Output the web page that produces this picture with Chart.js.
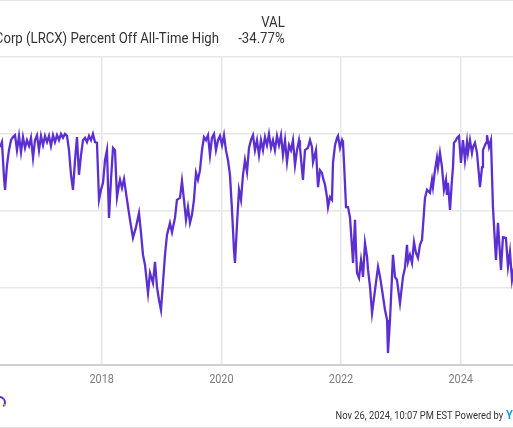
<!DOCTYPE html>
<html><head><meta charset="utf-8">
<script src="https://cdn.jsdelivr.net/npm/chart.js@4/dist/chart.umd.min.js"></script>
<style>
html,body{margin:0;padding:0;background:#fff;}
body{width:513px;height:428px;position:relative;overflow:hidden;font-family:Roboto,"Noto Sans",sans-serif;}
#c{position:absolute;left:0;top:0;}
.t{position:absolute;white-space:nowrap;color:#333;line-height:1;transform:scaleX(0.85);transform-origin:right center;}
.hl{position:absolute;left:0;width:513px;height:1px;background:#e3e3e3;}
</style></head><body>
<div class="hl" style="top:0"></div>
<div class="hl" style="top:427px"></div>
<canvas id="c" width="513" height="428"></canvas>
<div class="t" style="right:294px;top:31px;font-size:15.5px;">Lam Research Corp (LRCX) Percent Off All-Time High</div>
<div class="t" style="right:228px;top:15px;font-size:15.5px;">VAL</div>
<div class="t" style="right:228px;top:31px;font-size:15.5px;">-34.77%</div>
<div class="t" style="right:10px;top:410px;font-size:11px;">Nov 26, 2024, 10:07 PM EST Powered by</div>
<div class="t" style="left:506px;top:408px;font-size:13px;font-weight:bold;color:#1e9be0;transform-origin:left center;">YCHARTS</div>
<div style="position:absolute;left:-7px;top:396px;width:9px;height:9px;border:2px solid #5b2fd1;border-radius:50%;border-bottom-color:transparent;"></div>
<div style="position:absolute;left:4px;top:404px;width:2px;height:2px;background:#f2c200;border-radius:50%;"></div>
<script>
// Decimal-year positions of the weekly-ish samples
const sampleYears = [
2016.300,2016.333,2016.367,2016.384,2016.417,2016.450,2016.484,2016.517,2016.551,2016.584,2016.618,2016.651,2016.684,2016.718,2016.751,2016.785,2016.818,2016.852,2016.885,2016.918,2016.952,2016.985,2017.019,2017.052,2017.086,2017.119,2017.152,2017.186,2017.219,2017.253,2017.286,2017.320,2017.353,2017.386,2017.420,2017.453,2017.487,2017.520,2017.554,2017.587,2017.620,2017.654,2017.687,2017.721,2017.754,2017.788,2017.821,2017.854,2017.888,2017.921,2017.955,
2017.988,2018.022,2018.055,2018.088,2018.122,2018.155,2018.189,2018.222,2018.256,2018.289,2018.306,2018.339,2018.373,2018.423,2018.473,2018.523,2018.573,2018.623,2018.657,2018.690,2018.724,2018.774,2018.807,2018.857,2018.891,2018.924,2018.958,2018.991,2019.024,2019.058,2019.091,2019.141,2019.175,2019.225,2019.258,2019.309,2019.342,2019.375,2019.409,2019.442,2019.476,2019.509,2019.542,2019.576,2019.609,2019.643,
2019.676,2019.710,2019.743,2019.777,2019.810,2019.843,2019.877,2019.910,2019.944,2019.977,2020.011,2020.044,2020.077,2020.111,2020.144,2020.178,2020.211,2020.228,2020.261,2020.295,2020.328,2020.362,2020.395,2020.429,2020.462,2020.495,2020.529,2020.562,2020.596,2020.629,2020.662,2020.696,2020.729,2020.763,2020.796,2020.830,2020.863,2020.896,2020.930,2020.963,2020.997,2021.030,2021.064,2021.097,2021.131,2021.164,2021.197,2021.231,2021.264,2021.298,
2021.314,2021.364,2021.398,2021.448,2021.482,2021.515,2021.532,2021.582,2021.616,2021.649,2021.682,2021.699,2021.733,2021.766,2021.783,2021.816,2021.849,2021.866,2021.900,2021.933,2021.950,2021.983,2022.017,2022.033,2022.050,2022.084,2022.117,2022.150,2022.184,2022.201,2022.234,2022.251,2022.268,2022.301,2022.335,2022.351,2022.368,2022.401,2022.435,2022.452,2022.485,2022.519,2022.569,2022.619,2022.653,2022.686,2022.736,2022.770,2022.785,2022.819,2022.869,2022.902,2022.935,2022.986,2023.036,2023.069,2023.103,2023.120,2023.153,2023.187,2023.220,2023.253,2023.287,2023.320,2023.354,2023.404,2023.437,2023.487,2023.521,2023.537,2023.571,2023.604,2023.621,2023.654,2023.688,2023.721,2023.755,2023.771,2023.788,2023.822,2023.855,2023.872,2023.888,2023.922,2023.939,2023.972,2024.005,2024.039,2024.072,2024.106,2024.122,2024.156,2024.189,2024.206,2024.239,2024.273,2024.306,2024.323,2024.357,2024.373,2024.407,2024.424,2024.440,2024.474,2024.507,2024.540,2024.590,2024.624,2024.674,2024.707,2024.757,2024.791,2024.824,2024.858,2024.891
];
// Percent off all-time high (%)
const pctOffHigh = [
-3.4,-2.1,-11.4,-14.5,-8.1,-4.2,-1.6,-0.8,-0.3,-4.2,-0.5,-4.7,-0.8,-3.6,-1.6,-3.1,-1.0,-6.2,-1.6,-0.3,-4.2,-0.5,-2.9,-0.5,-2.1,-0.5,-3.1,-0.3,-2.1,-0.3,-1.6,0,-1.0,0,-0.5,-4.2,-10.6,-14.5,-6.8,-0.8,-10.6,-5.5,-1.6,-1.0,-2.1,-0.5,-1.6,0,-2.1,-2.3,-17.1,
-14.5,-12.7,-6.8,-4.2,-21.8,-11.9,-3.6,-4.2,-16.4,-13.2,-11.9,-14.0,-11.7,-17.1,-22.3,-27.0,-24.2,-20.5,-25.7,-31.4,-34.0,-41.3,-36.1,-38.7,-33.2,-39.7,-43.1,-45.7,-38.7,-31.4,-26.2,-23.1,-25.5,-21.8,-17.1,-16.6,-12.2,-17.1,-22.3,-19.0,-23.1,-21.0,-17.1,-10.1,-11.9,-9.4,
-4.2,-0.8,-1.6,-0.3,-5.5,-1.0,0,-4.2,-1.6,-0.5,-2.9,-0.3,-4.2,-6.8,-10.6,-19.7,-30.1,-33.5,-23.6,-14.5,-17.1,-10.6,-6.8,-9.9,-3.6,-1.6,-0.3,-4.2,-1.6,-5.5,-1.6,-4.2,-0.8,-2.9,0,-3.6,-1.6,-4.2,-0.5,-2.9,-0.3,-5.5,-1.6,-7.3,-2.9,-4.2,-1.6,-8.1,-4.2,-1.6,
-3.4,-11.9,-4.2,-3.6,-1.6,-3.4,-7.3,-4.2,-13.8,-9.4,-10.1,-11.4,-13.2,-16.4,-19.0,-16.4,-17.1,-7.5,-2.9,-1.0,-0.5,-3.6,-1.6,-2.3,-7.3,-19.0,-19.0,-21.6,-29.4,-33.5,-22.3,-30.1,-36.1,-37.4,-32.7,-34.5,-37.1,-28.3,-31.9,-35.3,-39.7,-46.5,-40.5,-34.5,-37.1,-40.5,-45.7,-48.3,-56.9,-48.3,-31.4,-37.1,-37.9,-43.9,-37.1,-34.8,-28.8,-33.2,-31.4,-33.5,-28.1,-30.9,-32.2,-28.8,-27.5,-16.6,-14.5,-15.3,-11.9,-13.8,-9.4,-6.2,-8.6,-4.9,-8.6,-14.5,-11.9,-15.8,-12.7,-19.7,-11.9,-8.6,-2.3,-1.6,-1.0,-0.5,-7.5,-1.6,-6.8,-2.1,-4.9,-1.6,-4.9,-3.4,-2.3,-4.9,-10.6,-13.8,-8.6,-4.2,-2.9,-2.3,-0.3,-3.4,-1.6,-19.0,-32.7,-23.1,-35.3,-26.8,-27.0,-34.5,-30.6,-37.9,-34.77
];
const xTickYears = [2018, 2020, 2022, 2024];
const yTickValues = [-60, -40, -20, 0, 20];

const points = sampleYears.map((yr, i) => ({ x: yr, y: pctOffHigh[i] }));

// Draws the x tick labels (slightly condensed, as in the reference) at the scale's own pixel positions
const xLabels = {
  id: 'xLabels',
  afterDraw(chart) {
    const ctx = chart.ctx, xs = chart.scales.x, yb = chart.chartArea.bottom;
    ctx.save();
    ctx.fillStyle = '#7d7d7d';
    ctx.font = '12.5px Roboto';
    ctx.textAlign = 'center';
    ctx.textBaseline = 'middle';
    xTickYears.forEach(v => {
      ctx.save();
      ctx.translate(xs.getPixelForValue(v), yb + 14.5);
      ctx.scale(0.87, 1);
      ctx.fillText(String(v), 0, 0);
      ctx.restore();
    });
    ctx.restore();
  }
};

new Chart(document.getElementById('c'), {
  type: 'line',
  data: {
    datasets: [{
      data: points,
      borderColor: '#5b2fd1',
      borderWidth: 2.3,
      pointRadius: 0,
      tension: 0,
      fill: false
    }]
  },
  options: {
    responsive: false,
    devicePixelRatio: 1,
    animation: false,
    events: [],
    layout: { padding: { top: 57, bottom: 63, left: 0, right: 0 } },
    plugins: { legend: { display: false }, tooltip: { enabled: false } },
    scales: {
      x: {
        type: 'linear',
        min: 2016.300,
        max: 2024.875,
        afterBuildTicks: s => { s.ticks = xTickYears.map(v => ({ value: v })); },
        grid: { color: '#e6e6e6', lineWidth: 1.5, drawTicks: false },
        border: { display: true, color: '#d0d0d0', width: 2 },
        ticks: { display: false }
      },
      y: {
        min: -60,
        max: 20,
        afterBuildTicks: s => { s.ticks = yTickValues.map(v => ({ value: v })); },
        grid: { color: '#e8e8e8', lineWidth: 1.5, drawTicks: false },
        border: { display: false },
        ticks: { display: false }
      }
    }
  },
  plugins: [xLabels]
});
</script>
</body></html>
